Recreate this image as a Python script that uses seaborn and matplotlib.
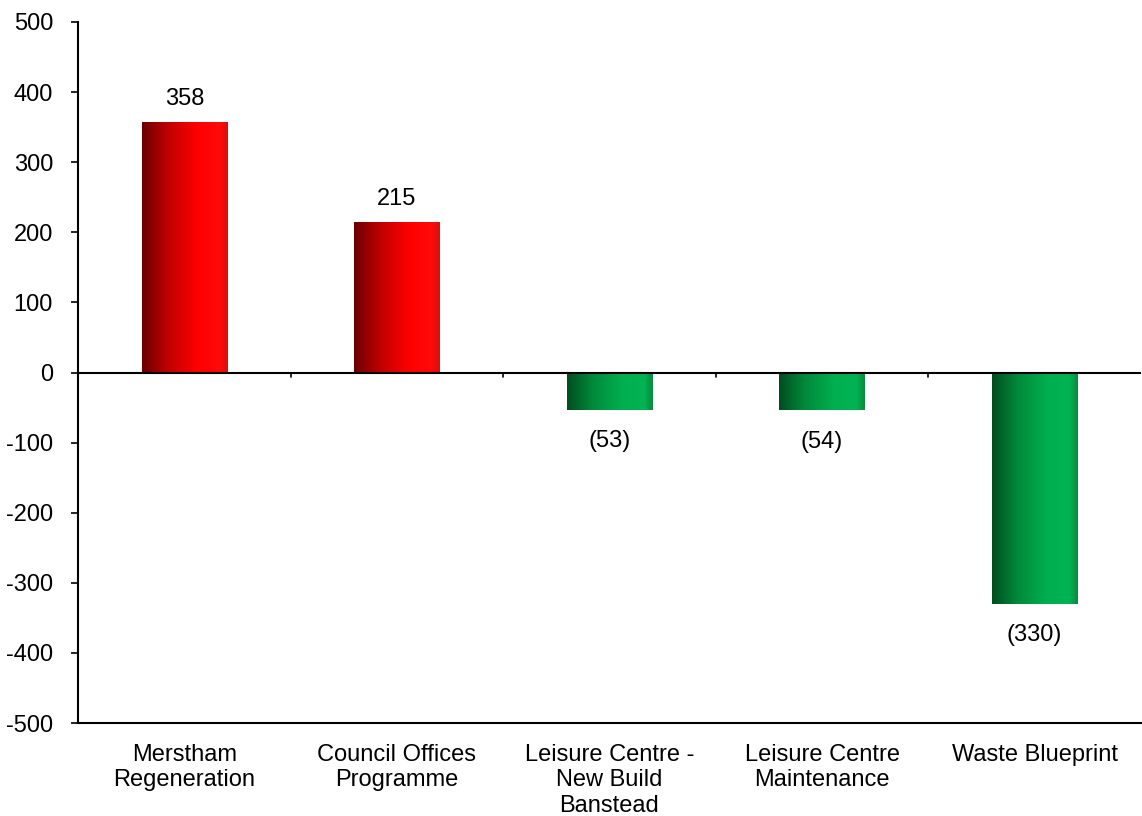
import numpy as np
import pandas as pd
import matplotlib
matplotlib.use("Agg")
import matplotlib.pyplot as plt
import seaborn as sns
from matplotlib.colors import LinearSegmentedColormap

categories = ["Merstham\nRegeneration", "Council Offices\nProgramme",
              "Leisure Centre -\nNew Build\nBanstead", "Leisure Centre\nMaintenance",
              "Waste Blueprint"]
values = [358, 215, -53, -54, -330]
yticks = [500, 400, 300, 200, 100, 0, -100, -200, -300, -400, -500]

sns.set_theme(style="white")
plt.rcParams['font.family'] = ['Liberation Sans', 'DejaVu Sans']
plt.rcParams['text.color'] = 'black'
plt.rcParams['xtick.color'] = 'black'
plt.rcParams['ytick.color'] = 'black'

FS = 17

df = pd.DataFrame({"cat": categories, "val": values})
fig = plt.figure(figsize=(11.42, 8.16), dpi=100)
ax = fig.add_axes([78/1142, 1-723/816, 1-78/1142 - 0.001, (723-22)/816])

sns.barplot(data=df, x="cat", y="val", ax=ax, width=0.4, color="red", edgecolor="none", saturation=1)

red_cmap = LinearSegmentedColormap.from_list("r", [(0, "#6a0000"), (0.3, "#c00000"), (0.65, "#ff0000"), (0.9, "#ff0a0a"), (1, "#d81010")])
green_cmap = LinearSegmentedColormap.from_list("g", [(0, "#004d1f"), (0.3, "#008a3a"), (0.65, "#00b050"), (0.9, "#00b352"), (1, "#0a8a40")])
grad = np.linspace(0, 1, 256).reshape(1, -1)
for p, v in zip(ax.patches, values):
    x0, w = p.get_x(), p.get_width()
    y0, h = p.get_y(), p.get_height()
    cmap = red_cmap if v > 0 else green_cmap
    im = ax.imshow(grad, cmap=cmap, aspect="auto", extent=[x0, x0 + w, y0, y0 + h], zorder=3)
    im.set_clip_path(p)
    p.set_facecolor("none")
    lab = f"{v}" if v > 0 else f"({-v})"
    if v > 0:
        ax.text(x0 + w/2, v + 32, lab, ha="center", va="center", fontsize=FS, color="black", zorder=5)
    else:
        ax.text(x0 + w/2, v - 45, lab, ha="center", va="center", fontsize=FS, color="black", zorder=5)

ax.set_xlim(-0.5, 4.5)
ax.set_ylim(-500, 500)
ax.set_yticks(yticks)
ax.set_yticklabels([str(t) for t in yticks], fontsize=FS)
ax.set_xlabel("")
ax.set_ylabel("")
ax.tick_params(axis="x", length=0, labelsize=FS, pad=15)
ax.tick_params(axis="y", length=5, width=1.2, color="black", direction="out", left=True, pad=13)
for s in ["top", "right"]:
    ax.spines[s].set_visible(False)
ax.spines["left"].set_color("black")
ax.spines["left"].set_linewidth(1.5)
ax.spines["bottom"].set_color("black")
ax.spines["bottom"].set_linewidth(1.5)

# zero line with category-boundary ticks
ax.axhline(0, color="black", lw=1.5, zorder=4)
for b in [0.5, 1.5, 2.5, 3.5]:
    ax.plot([b, b], [0, -7], color="black", lw=1.2, zorder=4, clip_on=False)

fig.savefig("out.png", dpi=100)
